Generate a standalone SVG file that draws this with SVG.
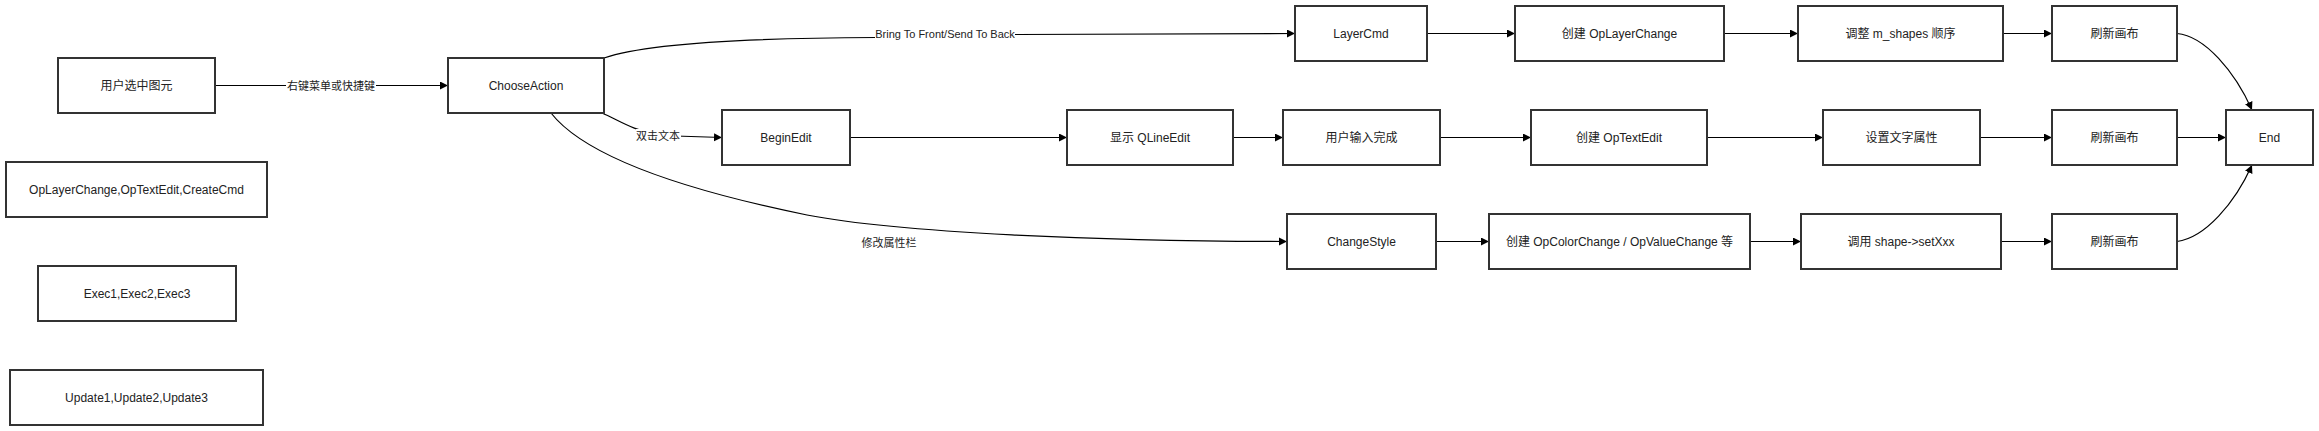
<svg xmlns="http://www.w3.org/2000/svg" width="2319" height="431" viewBox="0 0 2319 431">
<style>
.box rect{fill:#fff;stroke:#333;stroke-width:2}
.box text{font-family:"Liberation Sans","Noto Sans CJK SC",sans-serif;font-size:12px;fill:#222;text-anchor:middle;dominant-baseline:central}
.edge{fill:none;stroke:#000;stroke-width:1.2;marker-end:url(#arr)}
.lbl{font-family:"Liberation Sans","Noto Sans CJK SC",sans-serif;font-size:11px;fill:#222;text-anchor:middle;dominant-baseline:central}
.lblbg{fill:#fff}
</style>
<defs>
<marker id="arr" markerUnits="userSpaceOnUse" markerWidth="9" markerHeight="9" refX="8" refY="4" orient="auto">
<path d="M0,0 L8,4 L0,8 z" fill="#000"/>
</marker>
</defs>
<rect width="2319" height="431" fill="#fff"/>
<g id="connectors">
<path class="edge" d="M215,85.5 L448,85.5"/>
<path class="edge" d="M604,58 C650,42 760,38 876,37.5 L1015,34.5 L1295,33.5"/>
<path class="edge" d="M602,113 C620,121 632,130 660,135.5 L722,137.5"/>
<path class="edge" d="M551,113 C580,150 660,185 807,215 C900,233 1100,241 1287,241.5"/>
<path class="edge" d="M1427,33.5 L1515,33.5"/>
<path class="edge" d="M1724,33.5 L1798,33.5"/>
<path class="edge" d="M2003,33.5 L2052,33.5"/>
<path class="edge" d="M850,137.5 L1067,137.5"/>
<path class="edge" d="M1233,137.5 L1283,137.5"/>
<path class="edge" d="M1440,137.5 L1531,137.5"/>
<path class="edge" d="M1707,137.5 L1823,137.5"/>
<path class="edge" d="M1980,137.5 L2052,137.5"/>
<path class="edge" d="M2177,137.5 L2226,137.5"/>
<path class="edge" d="M1436,241.5 L1489,241.5"/>
<path class="edge" d="M1750,241.5 L1801,241.5"/>
<path class="edge" d="M2001,241.5 L2052,241.5"/>
<path class="edge" d="M2177,33.5 C2205,36 2235,72 2252,110"/>
<path class="edge" d="M2177,241.5 C2205,238 2235,203 2252,165"/>
<rect class="lblbg" x="286" y="79" width="90" height="14"/>
<text class="lbl" x="331" y="86">右键菜单或快捷键</text>
<rect class="lblbg" x="875" y="27" width="140" height="14"/>
<text class="lbl" x="945" y="34">Bring To Front/Send To Back</text>
<rect class="lblbg" x="636" y="129" width="45" height="14"/>
<text class="lbl" x="658" y="136">双击文本</text>
<text class="lbl" x="889" y="242.5">修改属性栏</text>
</g>
<g id="n_user" class="box"><rect x="58" y="58" width="157" height="55"/><text x="136.5" y="85.5">用户选中图元</text></g>
<g id="n_choose" class="box"><rect x="448" y="58" width="156" height="55"/><text x="526" y="85.5">ChooseAction</text></g>
<g id="n_ops" class="box"><rect x="6" y="162" width="261" height="55"/><text x="136.5" y="189.5">OpLayerChange,OpTextEdit,CreateCmd</text></g>
<g id="n_exec" class="box"><rect x="38" y="266" width="198" height="55"/><text x="137" y="293.5">Exec1,Exec2,Exec3</text></g>
<g id="n_update" class="box"><rect x="10" y="370" width="253" height="55"/><text x="136.5" y="397.5">Update1,Update2,Update3</text></g>
<g id="n_layercmd" class="box"><rect x="1295" y="6" width="132" height="55"/><text x="1361" y="33.5">LayerCmd</text></g>
<g id="n_oplayer" class="box"><rect x="1515" y="6" width="209" height="55"/><text x="1619.5" y="33.5">创建 OpLayerChange</text></g>
<g id="n_adjust" class="box"><rect x="1798" y="6" width="205" height="55"/><text x="1900.5" y="33.5">调整 m_shapes 顺序</text></g>
<g id="n_refresh1" class="box"><rect x="2052" y="6" width="125" height="55"/><text x="2114.5" y="33.5">刷新画布</text></g>
<g id="n_beginedit" class="box"><rect x="722" y="110" width="128" height="55"/><text x="786" y="137.5">BeginEdit</text></g>
<g id="n_qline" class="box"><rect x="1067" y="110" width="166" height="55"/><text x="1150" y="137.5">显示 QLineEdit</text></g>
<g id="n_input" class="box"><rect x="1283" y="110" width="157" height="55"/><text x="1361.5" y="137.5">用户输入完成</text></g>
<g id="n_optext" class="box"><rect x="1531" y="110" width="176" height="55"/><text x="1619" y="137.5">创建 OpTextEdit</text></g>
<g id="n_settext" class="box"><rect x="1823" y="110" width="157" height="55"/><text x="1901.5" y="137.5">设置文字属性</text></g>
<g id="n_refresh2" class="box"><rect x="2052" y="110" width="125" height="55"/><text x="2114.5" y="137.5">刷新画布</text></g>
<g id="n_end" class="box"><rect x="2226" y="110" width="87" height="55"/><text x="2269.5" y="137.5">End</text></g>
<g id="n_changestyle" class="box"><rect x="1287" y="214" width="149" height="55"/><text x="1361.5" y="241.5">ChangeStyle</text></g>
<g id="n_opcolor" class="box"><rect x="1489" y="214" width="261" height="55"/><text x="1619.5" y="241.5">创建 OpColorChange / OpValueChange 等</text></g>
<g id="n_setxxx" class="box"><rect x="1801" y="214" width="200" height="55"/><text x="1901" y="241.5">调用 shape-&gt;setXxx</text></g>
<g id="n_refresh3" class="box"><rect x="2052" y="214" width="125" height="55"/><text x="2114.5" y="241.5">刷新画布</text></g>
</svg>
